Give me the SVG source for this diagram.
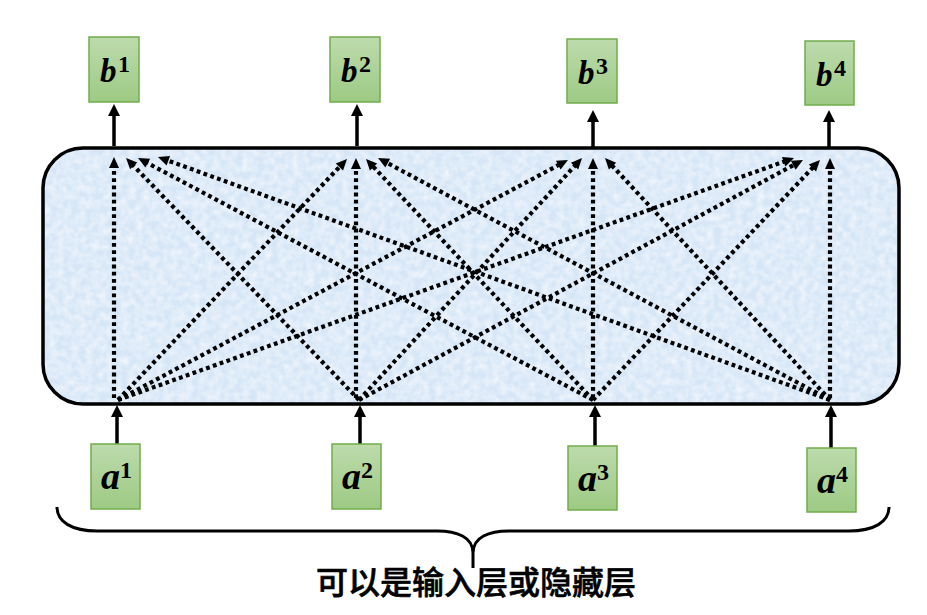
<svg xmlns="http://www.w3.org/2000/svg" width="927" height="615" viewBox="0 0 927 615">
<style>
.node rect{fill:url(#g);stroke:#72ad4c;stroke-width:1.5}
.lbl{font-family:"Liberation Serif","DejaVu Serif",serif;font-weight:bold;font-style:italic;fill:#000}
.sup{font-family:"Liberation Serif","DejaVu Serif",serif;font-weight:bold;font-style:normal;font-size:24px;fill:#000}
.dot{stroke:#000;stroke-width:4.2;stroke-dasharray:3.8 3.4;fill:none;marker-end:url(#dh)}
.sol{stroke:#000;stroke-width:3.5;fill:none;marker-end:url(#sh)}
.cap{font-family:"Noto Sans CJK SC","Noto Sans",sans-serif;font-size:32px;font-weight:500;fill:#000;stroke:#000;stroke-width:0.6}
</style>
<defs>
<linearGradient id="g" x1="0" y1="0" x2="0" y2="1">
<stop offset="0" stop-color="#bddbac"/>
<stop offset="1" stop-color="#9dca84"/>
</linearGradient>
<filter id="tex" x="0" y="0" width="100%" height="100%">
<feTurbulence type="fractalNoise" baseFrequency="0.14" numOctaves="2" seed="4" result="n"/>
<feColorMatrix in="n" type="matrix" values="0 0 0 0 1 0 0 0 0 1 0 0 0 0 1 0 0 0 -1.0 0.7" result="w"/>
<feComposite in="w" in2="SourceGraphic" operator="in" result="wc"/>
<feMerge><feMergeNode in="SourceGraphic"/><feMergeNode in="wc"/></feMerge>
</filter>
<marker id="dh" markerUnits="userSpaceOnUse" markerWidth="12" markerHeight="11" refX="3" refY="5" orient="auto" overflow="visible">
<path d="M0,0 L11,5 L0,10 z" fill="#000"/>
</marker>
<marker id="sh" markerUnits="userSpaceOnUse" markerWidth="13" markerHeight="13" refX="4" refY="6" orient="auto" overflow="visible">
<path d="M0,0 L12,6 L0,12 z" fill="#000"/>
</marker>
</defs>

<g id="layer">
<rect x="43" y="148" width="856" height="256" rx="40" fill="#d6e6f7" filter="url(#tex)"/>
<rect x="43" y="148" width="856" height="256" rx="40" fill="none" stroke="#000" stroke-width="3.5"/>
</g>

<g id="connectors">
<path class="sol" d="M117,444 L117,413"/>
<path class="sol" d="M360,444 L360,413"/>
<path class="sol" d="M595,446 L595,413"/>
<path class="sol" d="M831,448 L831,413"/>
<path class="sol" d="M114,146 L114,112"/>
<path class="sol" d="M357,146 L357,112"/>
<path class="sol" d="M593,147 L593,118"/>
<path class="sol" d="M829,147 L829,118"/>

<path class="dot" d="M114,398 L114,165"/>
<path class="dot" d="M356,398 L356,166"/>
<path class="dot" d="M593,398 L593,166"/>
<path class="dot" d="M830,398 L830,166"/>

<path class="dot" d="M359,400 L131.6,163.7"/>
<path class="dot" d="M593,400 L145.1,161.8"/>
<path class="dot" d="M830,400 L165.5,159.7"/>
<path class="dot" d="M118,400 L341.5,164.8"/>
<path class="dot" d="M593,400 L371.5,164.8"/>
<path class="dot" d="M830,400 L385.1,161.8"/>
<path class="dot" d="M118,400 L560.9,163.8"/>
<path class="dot" d="M359,400 L576.6,163.9"/>
<path class="dot" d="M830,400 L610.5,163.9"/>
<path class="dot" d="M118,400 L786.5,160.7"/>
<path class="dot" d="M359,400 L795.9,163.8"/>
<path class="dot" d="M593,400 L814.5,165.8"/>
</g>

<g id="b1" class="node"><rect x="89" y="37" width="50" height="65"/><text class="lbl" x="100" y="82" font-size="33">b</text><text class="sup" x="118" y="72">1</text></g>
<g id="b2" class="node"><rect x="330" y="37" width="50" height="65"/><text class="lbl" x="341" y="82" font-size="33">b</text><text class="sup" x="359" y="72">2</text></g>
<g id="b3" class="node"><rect x="567" y="39" width="50" height="64"/><text class="lbl" x="578" y="84" font-size="33">b</text><text class="sup" x="596" y="74">3</text></g>
<g id="b4" class="node"><rect x="805" y="41" width="49" height="64"/><text class="lbl" x="816" y="86" font-size="33">b</text><text class="sup" x="834" y="76">4</text></g>

<g id="a1" class="node"><rect x="91" y="444" width="49" height="65"/><text class="lbl" x="101" y="489" font-size="38">a</text><text class="sup" x="120" y="478">1</text></g>
<g id="a2" class="node"><rect x="332" y="444" width="49" height="65"/><text class="lbl" x="342" y="489" font-size="38">a</text><text class="sup" x="361" y="478">2</text></g>
<g id="a3" class="node"><rect x="568" y="446" width="49" height="64"/><text class="lbl" x="578" y="491" font-size="38">a</text><text class="sup" x="597" y="480">3</text></g>
<g id="a4" class="node"><rect x="807" y="448" width="49" height="64"/><text class="lbl" x="817" y="493" font-size="38">a</text><text class="sup" x="836" y="482">4</text></g>

<g id="brace">
<path d="M57,507 C57,522 72,531 97,531 L437,531 C457,531 473,537 473,553 L473,568 M473,553 C473,537 489,531 509,531 L849,531 C874,531 889,522 889,507" fill="none" stroke="#000" stroke-width="3"/>
<text class="cap" x="476" y="594" text-anchor="middle">可以是输入层或隐藏层</text>
</g>
</svg>
